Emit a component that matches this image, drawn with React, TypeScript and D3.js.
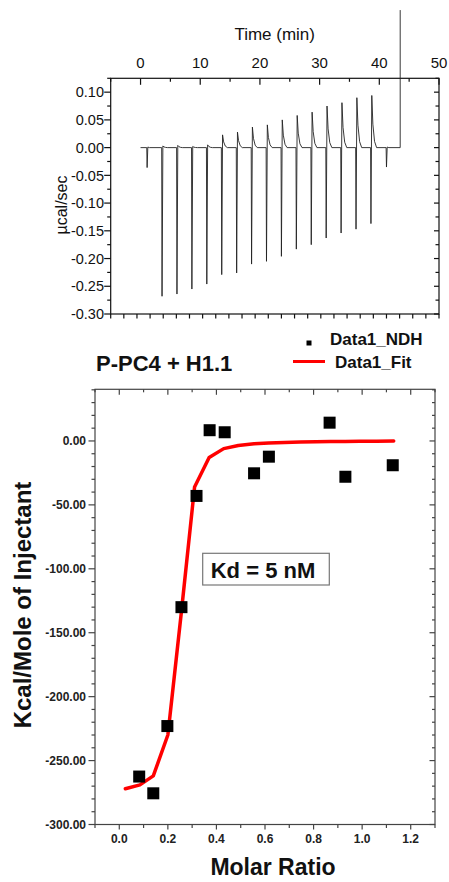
import React from "react";
import * as d3 from "d3";

// ---------- Raw ITC trace (top panel) ----------
const injTimes = [1.1, 3.6, 6.1, 8.6, 11.1, 13.6, 16.1, 18.6, 21.1, 23.6, 26.1, 28.6, 31.1, 33.6, 36.1, 38.6, 41.2];
const injTroughs = [-0.036, -0.268, -0.264, -0.255, -0.246, -0.229, -0.226, -0.21, -0.205, -0.196, -0.183, -0.175, -0.163, -0.154, -0.147, -0.137, -0.035];
const injPeaks = [0.0, 0.003, 0.004, 0.002, 0.005, 0.023, 0.028, 0.037, 0.041, 0.05, 0.058, 0.064, 0.075, 0.081, 0.09, 0.094, 0.0];
const traceStart = 0;
const traceEnd = 43.5;
const traceEndJump = 0.248;
const topXTicks = [0, 10, 20, 30, 40, 50];
const topYTicks = [-0.3, -0.25, -0.2, -0.15, -0.1, -0.05, 0, 0.05, 0.1];

// ---------- Integrated heats (bottom panel) ----------
const ratioX = [0.082, 0.14, 0.198, 0.256, 0.318, 0.372, 0.434, 0.555, 0.616, 0.866, 0.931, 1.126];
const heatY = [-262.5, -275.6, -223, -130, -43, 8.4, 6.8, -25.3, -12.3, 14.3, -28, -19];
const fitX = [0.025, 0.085, 0.14, 0.2, 0.255, 0.31, 0.37, 0.43, 0.49, 0.555, 0.615, 0.68, 0.745, 0.81, 0.87, 0.93, 0.99, 1.06, 1.13];
const fitY = [-272, -269, -262, -230, -135, -36, -13, -6, -3.6, -2.2, -1.6, -1.2, -0.9, -0.7, -0.5, -0.4, -0.3, -0.2, -0.1];
const botXTicks = [0, 0.2, 0.4, 0.6, 0.8, 1.0, 1.2];
const botYTicks = [-300, -250, -200, -150, -100, -50, 0];

const FONT = "'Liberation Sans', Arial, sans-serif";

function fmt(v: number, d: number) {
  const r = Math.round(v * Math.pow(10, d)) / Math.pow(10, d);
  const s = Math.abs(r).toFixed(d);
  return (r < 0 ? "-" : "") + s;
}

export default function App() {
  // top panel scales
  const xT = d3.scaleLinear().domain([-5, 50]).range([110.7, 439]);
  const yT = d3.scaleLinear().domain([-0.3, 0.125]).range([314, 78.3]);

  // build trace points from injection key values
  const pts: [number, number][] = [[traceStart, 0]];
  injTimes.forEach((t, i) => {
    pts.push([t - 0.06, 0]);
    pts.push([t, injTroughs[i]]);
    if (injPeaks[i] > 0.001) {
      pts.push([t + 0.14, injPeaks[i]]);
      pts.push([t + 0.32, injPeaks[i] * 0.45]);
      pts.push([t + 0.6, injPeaks[i] * 0.12]);
      pts.push([t + 0.95, 0]);
    } else {
      pts.push([t + 0.12, 0.001]);
      pts.push([t + 0.4, 0]);
    }
  });
  pts.push([traceEnd, 0]);
  pts.push([traceEnd, traceEndJump]);
  const traceLine = d3.line<[number, number]>().x((d) => xT(d[0])).y((d) => yT(d[1]));

  const topMinorX = d3.range(-5, 50.01, 5);
  const topYMinor = d3.range(-0.3, 0.1251, 0.025);
  const botTopTicks = d3.range(0, 26).map((i) => -5 + (i * 55) / 25);

  // bottom panel scales
  const xB = d3.scaleLinear().domain([-0.1, 1.3]).range([95, 435]);
  const yB = d3.scaleLinear().domain([-300, 40.4]).range([824.5, 389.3]);
  const fitLine = d3.line<number>().x((d, i) => xB(fitX[i])).y((d) => yB(d));
  const bxMinor = d3.range(-0.1, 1.301, 0.1);
  const byMinor = d3.range(-300, 40.5, 10);

  const x0 = xB.range()[0], x1 = xB.range()[1];
  const y0 = yB.range()[0], y1 = yB.range()[1];
  const tx0 = xT.range()[0], tx1 = xT.range()[1];
  const ty0 = yT.range()[0], ty1 = yT.range()[1];

  return (
    <svg width={449} height={882} style={{ position: "absolute", left: 0, top: 0, background: "#fff" }} fontFamily={FONT}>
      <rect x={0} y={0} width={449} height={882} fill="#fff" />
      {/* ===== TOP PANEL ===== */}
      <text x={274.7} y={39.5} fontSize={17} textAnchor="middle" fill="#111">Time (min)</text>
      {topXTicks.map((v) => (
        <text key={"tx" + v} x={xT(v)} y={68.3} fontSize={15} textAnchor="middle" fill="#111">{v}</text>
      ))}
      {topYTicks.map((v) => (
        <text key={"ty" + v} x={104} y={yT(v)} dy="0.36em" fontSize={14.5} textAnchor="end" fill="#111">{fmt(v, 2)}</text>
      ))}
      <text transform={`translate(67,205) rotate(-90)`} fontSize={16} textAnchor="middle" fill="#111">µcal/sec</text>
      <rect x={tx0} y={ty1} width={tx1 - tx0} height={ty0 - ty1} fill="none" stroke="#111" strokeWidth={1.2} />
      {/* top ticks inward */}
      {topMinorX.map((v, i) => {
        const major = Math.round(v) % 10 === 0;
        return <line key={"ttk" + i} x1={xT(v)} x2={xT(v)} y1={ty1} y2={ty1 + (major ? 6.5 : 3.5)} stroke="#111" strokeWidth={1.2} />;
      })}
      {/* bottom ticks outward */}
      {botTopTicks.map((v, i) => (
        <line key={"tbk" + i} x1={xT(v)} x2={xT(v)} y1={ty0} y2={ty0 + 4.5} stroke="#111" strokeWidth={1.2} />
      ))}
      {/* left ticks outward, right ticks inward */}
      {topYMinor.map((v, i) => {
        const major = i % 2 === 0;
        return (
          <g key={"tyk" + i}>
            <line x1={tx0} x2={tx0 - (major ? 6.5 : 3.5)} y1={yT(v)} y2={yT(v)} stroke="#111" strokeWidth={1.2} />
            <line x1={tx1} x2={tx1 - (major ? 5 : 3.5)} y1={yT(v)} y2={yT(v)} stroke="#111" strokeWidth={1.2} />
          </g>
        );
      })}
      <path d={traceLine(pts) || ""} fill="none" stroke="#222" strokeWidth={0.9} strokeLinejoin="round" />

      {/* ===== BOTTOM PANEL ===== */}
      <text x={96} y={370.5} fontSize={22} fontWeight="bold" fill="#111">P-PC4 + H1.1</text>
      <rect x={306.5} y={340.5} width={5} height={5} fill="#000" />
      <text x={330} y={345} fontSize={17} fontWeight="bold" fill="#111">Data1_NDH</text>
      <line x1={293} x2={325} y1={361.5} y2={361.5} stroke="#ff0000" strokeWidth={3} />
      <text x={335} y={367.5} fontSize={17} fontWeight="bold" fill="#111">Data1_Fit</text>

      <rect x={x0} y={y1} width={x1 - x0} height={y0 - y1} fill="none" stroke="#444" strokeWidth={1.2} />
      {bxMinor.map((v, i) => {
        const major = i % 2 === 1;
        return (
          <g key={"bxk" + i}>
            <line x1={xB(v)} x2={xB(v)} y1={y0} y2={y0 + (major ? 5 : 3.5)} stroke="#444" strokeWidth={1.2} />
            <line x1={xB(v)} x2={xB(v)} y1={y1} y2={y1 + (major ? 5.5 : 3)} stroke="#444" strokeWidth={1.2} />
          </g>
        );
      })}
      {byMinor.map((v, i) => {
        const major = Math.round(v) % 50 === 0;
        return (
          <g key={"byk" + i}>
            <line x1={x0} x2={x0 - (major ? 6.5 : 3.5)} y1={yB(v)} y2={yB(v)} stroke="#444" strokeWidth={1.2} />
            <line x1={x1} x2={x1 - (major ? 5.5 : 3)} y1={yB(v)} y2={yB(v)} stroke="#444" strokeWidth={1.2} />
          </g>
        );
      })}
      {botXTicks.map((v) => (
        <text key={"bxl" + v} x={xB(v)} y={843} fontSize={12} fontWeight="bold" textAnchor="middle" fill="#222">{fmt(v, 1)}</text>
      ))}
      {botYTicks.map((v) => (
        <text key={"byl" + v} x={86} y={yB(v)} dy="0.36em" fontSize={12} fontWeight="bold" textAnchor="end" fill="#222">{fmt(v, 2)}</text>
      ))}
      <text x={273} y={875} fontSize={23} fontWeight="bold" textAnchor="middle" fill="#111">Molar Ratio</text>
      <text transform={`translate(31,605) rotate(-90)`} fontSize={24} fontWeight="bold" textAnchor="middle" fill="#111">Kcal/Mole of Injectant</text>

      <path d={fitLine(fitY) || ""} fill="none" stroke="#ff0000" strokeWidth={3.5} strokeLinejoin="round" strokeLinecap="round" />
      {ratioX.map((v, i) => (
        <rect key={"pt" + i} x={xB(v) - 6} y={yB(heatY[i]) - 6} width={12} height={12} fill="#000" />
      ))}

      <rect x={202.7} y={553.3} width={126.6} height={31.7} fill="#fff" stroke="#777" strokeWidth={1.2} />
      <text x={263} y={577.5} fontSize={22} fontWeight="bold" textAnchor="middle" fill="#111">Kd = 5 nM</text>
    </svg>
  );
}
